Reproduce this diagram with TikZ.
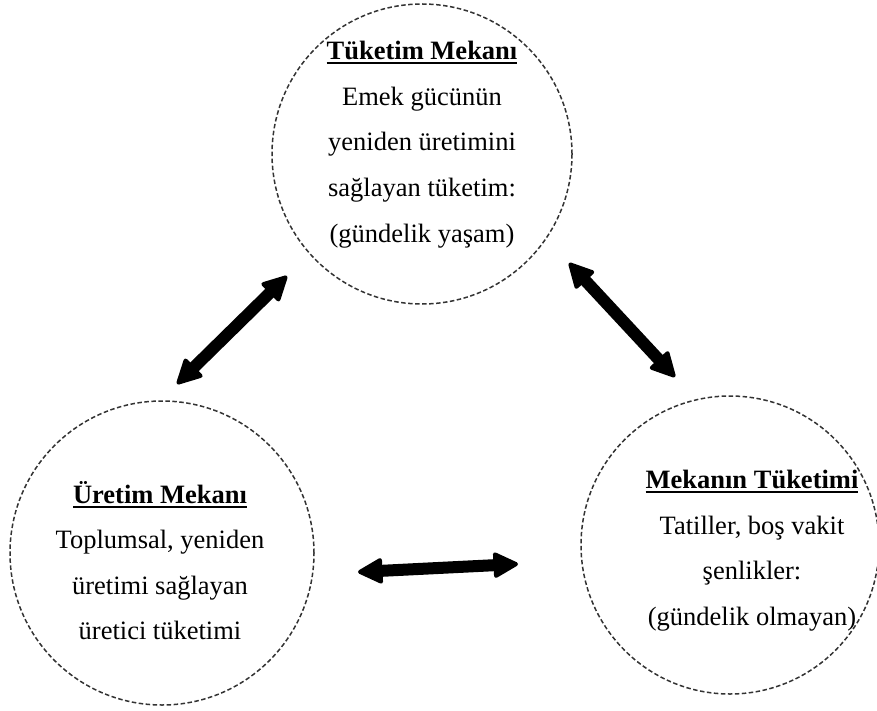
\documentclass[tikz,border=0pt]{standalone}
\usepackage{fontspec}
\setmainfont{Liberation Serif}
\usetikzlibrary{arrows.meta}
\newcommand\myul[1]{\setbox0\hbox{#1}\rlap{\rule[-4.5pt]{\wd0}{2pt}}\box0}
\begin{document}
\begin{tikzpicture}[x=1pt,y=-1pt,
  ring/.style={circle,draw=black!80,line width=1.5pt,dash pattern=on 4.5pt off 2.5pt,minimum size=#1,inner sep=0pt},
  txt/.style={font=\fontsize{26.5}{45.6}\selectfont,inner sep=0pt,align=center,anchor=center},
  tip/.tip={Triangle[width=27pt,length=27pt,round,line width=4pt]},
  dbl/.style={line width=12pt,{tip}-{tip}}
]
\useasboundingbox (0,0) rectangle (877,711);
% circles
\node[ring=300pt] (top) at (422,154) {};
\node[ring=304pt] (left) at (162,553) {};
\node[ring=298pt] (right) at (730,545) {};
% texts
\node[txt] (toptxt) at (422,144.5) {\myul{\textbf{Tüketim Mekanı}}\\Emek gücünün\\yeniden üretimini\\sağlayan tüketim:\\(gündelik yaşam)};
\node[txt] (lefttxt) at (160,560.5) {\myul{\textbf{Üretim Mekanı}}\\Toplumsal, yeniden\\üretimi sağlayan\\üretici tüketimi};
\node[txt] (righttxt) at (752,550.5) {\myul{\textbf{Mekanın Tüketimi}}\\Tatiller, boş vakit\\şenlikler:\\(gündelik olmayan)};
% arrow end points
\coordinate (a1s) at (177,384);
\coordinate (a1e) at (287,276);
\coordinate (a2s) at (569,263);
\coordinate (a2e) at (675,377);
\coordinate (a3s) at (358,572);
\coordinate (a3e) at (518,564);
\draw[dbl] (a1s) -- (a1e);
\draw[dbl] (a2s) -- (a2e);
\draw[dbl] (a3s) -- (a3e);
\end{tikzpicture}
\end{document}
